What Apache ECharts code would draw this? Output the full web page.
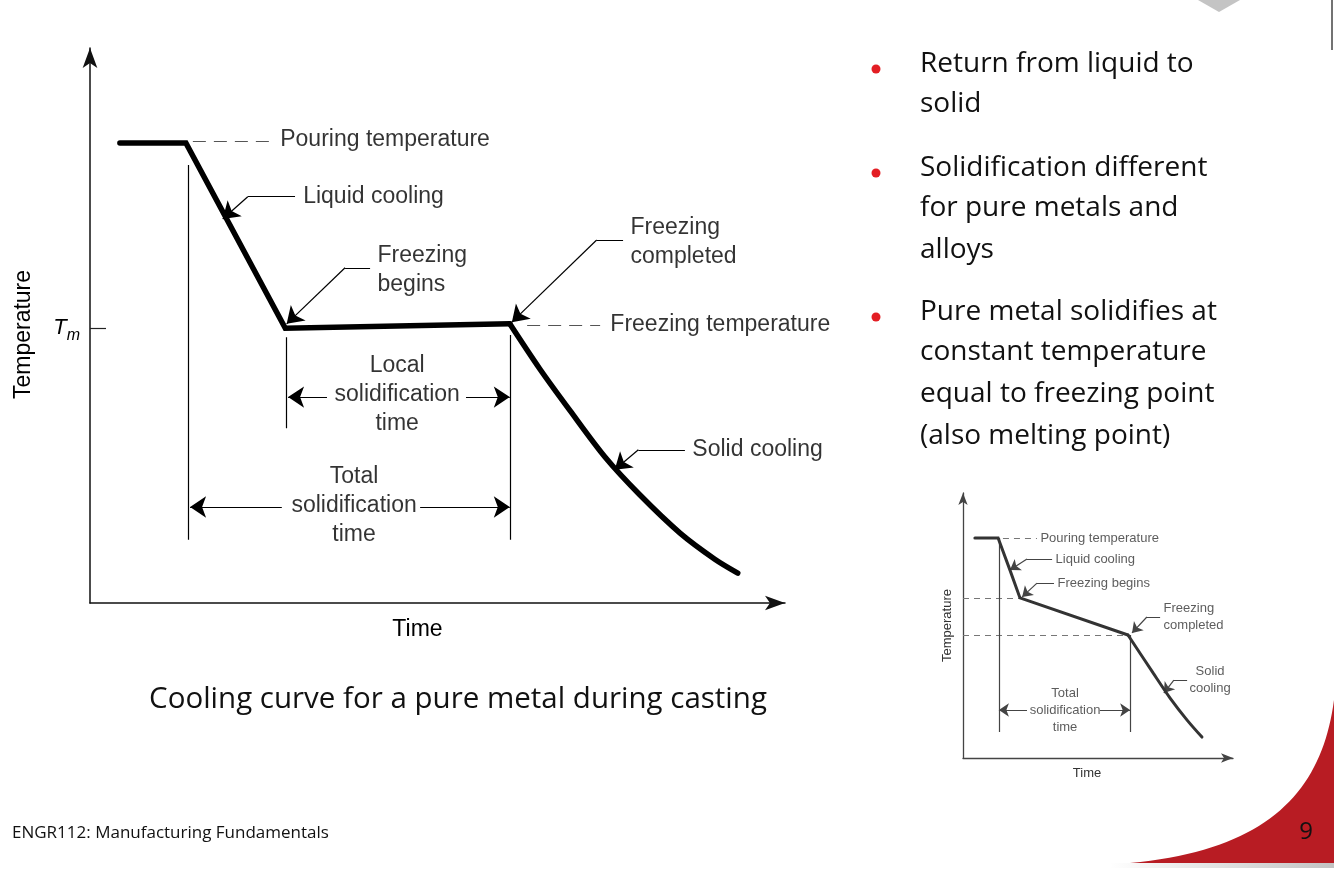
<!DOCTYPE html>
<html><head><meta charset="utf-8">
<script src="https://cdn.jsdelivr.net/npm/echarts@6/dist/echarts.min.js"></script>
<style>html,body{margin:0;padding:0;background:#fff}#c{width:1334px;height:872px}</style>
</head><body><div id="c"></div>
<script>
// ---------- main figure (schematic units 0-100 on both axes) ----------
const mainLiquid = [[4.3,82.9],[13.8,82.9],[28.1,49.5],[60.4,50.3]];
const mainSolid = [[60.4,50.3],[64.7,42.2],[69.1,34.6],[74.1,26.3],[79.1,19.5],[84.9,12.6],[89.9,7.9],[93.2,5.4]];
const mainTm = 49.5;
const mainDashes = [[[14.8,83.2],[25.9,83.2]], [[62.9,50.1],[73.4,50.1]]];
const mainGuides = [[[14.1,78.9],[14.1,11.4]], [[28.2,47.9],[28.2,31.5]], [[60.4,48.3],[60.4,11.4]]];
const mainLeaderTails = [[[29.5,73.2],[22.7,73.2]], [[40.3,60.4],[36.7,60.4]], [[76.7,65.4],[72.9,65.4]], [[85.6,27.6],[78.9,27.6]]];
const mainLeaderHeads = [[[22.7,73.2],[19.1,69.2]], [[36.7,60.4],[28.3,50.3]], [[72.9,65.4],[60.7,50.6]], [[78.9,27.6],[75.5,24.0]]];
const mainSpans = [[[34.1,37.1],[28.5,37.1]], [[54.1,37.1],[60.4,37.1]], [[27.6,17.3],[14.4,17.3]], [[47.5,17.3],[60.4,17.3]]];
const mainSideLabels = [[27.3,83.4,'Pouring temperature'], [30.6,73.2,'Liquid cooling'], [41.3,60.0,'Freezing\nbegins'], [77.7,65.0,'Freezing\ncompleted'], [74.8,50.1,'Freezing temperature'], [86.6,27.7,'Solid cooling']];
const mainCenterLabels = [[44.2,37.5,'Local\nsolidification\ntime'], [38.0,17.5,'Total\nsolidification\ntime']];

// ---------- inset figure (alloy) ----------
const insetLiquid = [[4.4,83.0],[13.0,83.0],[17.4,70.9],[21.1,60.4],[61.1,46.4]];
const insetSolid = [[61.1,46.4],[70.4,32.1],[76.7,22.6],[83.0,14.3],[88.5,7.9]];
const insetDashes = [[[14.8,83.0],[27.4,83.0]], [[0,60.4],[21.1,60.4]], [[0,46.4],[61.1,46.4]]];
const insetGuides = [[[13.3,83.0],[13.3,9.8]], [[61.9,46.4],[61.9,9.8]]];
const insetLeaderTails = [[[33.0,75.1],[23.7,75.1]], [[33.7,66.0],[27.4,66.0]], [[73.0,53.2],[68.1,53.2]], [[83.0,29.4],[78.1,29.4]]];
const insetLeaderHeads = [[[23.7,75.1],[17.4,70.9]], [[27.4,66.0],[21.9,60.8]], [[68.1,53.2],[62.6,47.2]], [[78.1,29.4],[74.4,24.5]]];
const insetSpans = [[[23.7,18.1],[13.3,18.1]], [[50.7,18.1],[61.9,18.1]]];
const insetSideLabels = [[28.5,83.0,'Pouring temperature'], [34.1,75.1,'Liquid cooling'], [34.8,66.0,'Freezing begins'], [74.1,53.2,'Freezing\ncompleted']];
const insetCenterLabels = [[37.8,18.1,'Total\nsolidification\ntime'], [91.5,29.4,'Solid\ncooling']];

// ---------- slide text ----------
const bulletLines = [
  ['Return from liquid to', 'solid'],
  ['Solidification different', 'for pure metals and', 'alloys'],
  ['Pure metal solidifies at', 'constant temperature', 'equal to freezing point', '(also melting point)']
];
const captionText = 'Cooling curve for a pure metal during casting';
const footerText = 'ENGR112: Manufacturing Fundamentals';
const pageNumber = '9';

const FONT = '"Liberation Sans", Arial, sans-serif';
const SLIDE_FONT = '"Open Sans", Lato, sans-serif';

function panelSeries(g, d, st) {
  const base = {xAxisIndex: g, yAxisIndex: g, silent: true, animation: false};
  const seg = (arr, extra) => Object.assign({}, base, {
    type: 'lines', coordinateSystem: 'cartesian2d', polyline: false,
    data: arr.map(c => ({coords: c}))
  }, extra);
  return [
    Object.assign({}, base, {type: 'line', data: d.liquid, symbol: 'none', z: 5,
      lineStyle: {color: st.curve, width: st.w, join: 'miter', cap: 'round'}}),
    Object.assign({}, base, {type: 'line', data: d.solid, symbol: 'none', smooth: 0.3, z: 5,
      lineStyle: {color: st.curve, width: st.w, cap: 'round'}}),
    seg(d.dashes, {symbol: 'none', lineStyle: {color: st.dash, width: 1, type: st.dashType, opacity: 1}}),
    seg(d.guides, {symbol: 'none', lineStyle: {color: st.thin, width: 1.2, opacity: 1}}),
    seg(d.tails, {symbol: 'none', lineStyle: {color: st.thin, width: 1.2, opacity: 1}}),
    seg(d.heads.concat(d.spans), {symbol: ['none', 'arrow'], symbolSize: st.arrow,
      itemStyle: {color: st.thin}, lineStyle: {color: st.thin, width: 1.2, opacity: 1}}),
    Object.assign({}, base, {type: 'scatter', data: d.side, symbolSize: 1, itemStyle: {color: 'rgba(0,0,0,0)'},
      label: {show: true, position: 'right', distance: 0, formatter: p => p.value[2],
        fontFamily: FONT, fontSize: st.fs, color: st.text, lineHeight: st.lh}}),
    Object.assign({}, base, {type: 'scatter', data: d.center, symbolSize: 1, itemStyle: {color: 'rgba(0,0,0,0)'},
      label: {show: true, position: 'inside', formatter: p => p.value[2],
        fontFamily: FONT, fontSize: st.fs, color: st.text, lineHeight: st.lh, align: 'center'}})
  ];
}

const series = [].concat(
  panelSeries(0, {liquid: mainLiquid, solid: mainSolid, dashes: mainDashes, guides: mainGuides,
    tails: mainLeaderTails, heads: mainLeaderHeads, spans: mainSpans, side: mainSideLabels, center: mainCenterLabels},
    {curve: '#000', w: 5.5, dash: '#555', dashType: [13, 8], thin: '#000', arrow: [11, 16], fs: 23, lh: 29, text: '#000'}),
  panelSeries(1, {liquid: insetLiquid, solid: insetSolid, dashes: insetDashes, guides: insetGuides,
    tails: insetLeaderTails, heads: insetLeaderHeads, spans: insetSpans, side: insetSideLabels, center: insetCenterLabels},
    {curve: '#333', w: 3, dash: '#777', dashType: [6, 5], thin: '#444', arrow: [7, 10], fs: 13, lh: 17, text: '#333'})
);

// slide graphics
const graphic = [];
const lineY = [[64, 104], [168, 208, 250], [312, 352, 394, 436]];
bulletLines.forEach((lines, i) => {
  graphic.push({type: 'circle', shape: {cx: 876, cy: lineY[i][0] + 5, r: 4.5}, style: {fill: '#e31e24'}});
  lines.forEach((t, j) => graphic.push({type: 'text', x: 920, y: lineY[i][j],
    style: {text: t, font: '28px ' + SLIDE_FONT, fill: '#111', verticalAlign: 'middle'}}));
});
graphic.push({type: 'text', x: 458, y: 700, style: {text: captionText, font: '29.5px ' + SLIDE_FONT, fill: '#111', align: 'center', verticalAlign: 'middle'}});
graphic.push({type: 'text', x: 12, y: 833, style: {text: footerText, font: '17px ' + SLIDE_FONT, fill: '#111', verticalAlign: 'middle'}});
// red corner swoosh: sample a cubic bezier into polygon points
(function () {
  const P0 = [1334, 700], P1 = [1322, 790], P2 = [1270, 850], P3 = [1130, 863];
  const pts = [];
  for (let i = 0; i <= 40; i++) {
    const t = i / 40, u = 1 - t;
    pts.push([u*u*u*P0[0] + 3*u*u*t*P1[0] + 3*u*t*t*P2[0] + t*t*t*P3[0],
              u*u*u*P0[1] + 3*u*u*t*P1[1] + 3*u*t*t*P2[1] + t*t*t*P3[1]]);
  }
  pts.push([1334, 863]);
  graphic.push({type: 'polygon', shape: {points: pts}, style: {fill: '#b81c23'}});
})();
graphic.push({type: 'rect', shape: {x: 1110, y: 863, width: 224, height: 5}, style: {fill: {type: 'linear', x: 0, y: 0, x2: 1, y2: 0, colorStops: [{offset: 0, color: 'rgba(120,120,120,0)'}, {offset: 1, color: 'rgba(120,120,120,0.45)'}]}}});
graphic.push({type: 'text', x: 1306, y: 832, style: {text: pageNumber, font: '24px ' + SLIDE_FONT, fill: '#111', align: 'center', verticalAlign: 'middle'}});
graphic.push({type: 'polygon', shape: {points: [[1198, 0], [1240, 0], [1219, 12]]}, style: {fill: '#c4c4c4'}});
graphic.push({type: 'line', shape: {x1: 1332, y1: 0, x2: 1332, y2: 50}, style: {stroke: '#444', lineWidth: 1.5}});

function axisPair(g, o) {
  return {
    x: {type: 'value', gridIndex: g, min: 0, max: 100, splitLine: {show: false}, axisTick: {show: false}, axisLabel: {show: false},
      axisLine: {show: true, symbol: ['none', 'arrow'], symbolSize: o.arrow, lineStyle: {color: o.axis, width: o.aw}},
      name: 'Time', nameLocation: 'middle', nameGap: o.xGap,
      nameTextStyle: {fontFamily: FONT, fontSize: o.fs, color: o.text, padding: [0, o.xShift, 0, 0]}},
    y: {type: 'value', gridIndex: g, min: 0, max: 100, splitLine: {show: false},
      axisLine: {show: true, symbol: ['none', 'arrow'], symbolSize: o.arrow, lineStyle: {color: o.axis, width: o.aw}},
      axisTick: o.tm ? {show: true, inside: true, length: 16, customValues: [mainTm], lineStyle: {color: '#222', width: 1.2}} : {show: false},
      axisLabel: o.tm ? {show: true, customValues: [mainTm], margin: 10, formatter: () => '{t|T}{m|m}',
        rich: {t: {fontFamily: FONT, fontStyle: 'italic', fontSize: 22, color: '#000'},
               m: {fontFamily: FONT, fontStyle: 'italic', fontSize: 16, color: '#000', padding: [14, 0, 0, 0]}}} : {show: false},
      name: 'Temperature', nameLocation: 'middle', nameGap: o.yGap, nameRotate: 90,
      nameTextStyle: {fontFamily: FONT, fontSize: o.fs, color: o.text, padding: [0, o.yShift, 0, 0]}}
  };
}
const ax0 = axisPair(0, {arrow: [11, 20], axis: '#111', aw: 1.5, xGap: 15, xShift: 40, yGap: 55, yShift: 18, fs: 23, text: '#000', tm: true});
const ax1 = axisPair(1, {arrow: [7, 12], axis: '#444', aw: 1.3, xGap: 9, xShift: 22, yGap: 9, yShift: 0, fs: 13, text: '#333', tm: false});

const chart = echarts.init(document.getElementById('c'), null, {renderer: 'canvas'});
chart.setOption({
  animation: false,
  backgroundColor: '#fff',
  grid: [{left: 90, top: 48, width: 695, height: 555}, {left: 963, top: 493, width: 270, height: 265}],
  xAxis: [ax0.x, ax1.x],
  yAxis: [ax0.y, ax1.y],
  series: series,
  graphic: graphic
});
</script></body></html>
